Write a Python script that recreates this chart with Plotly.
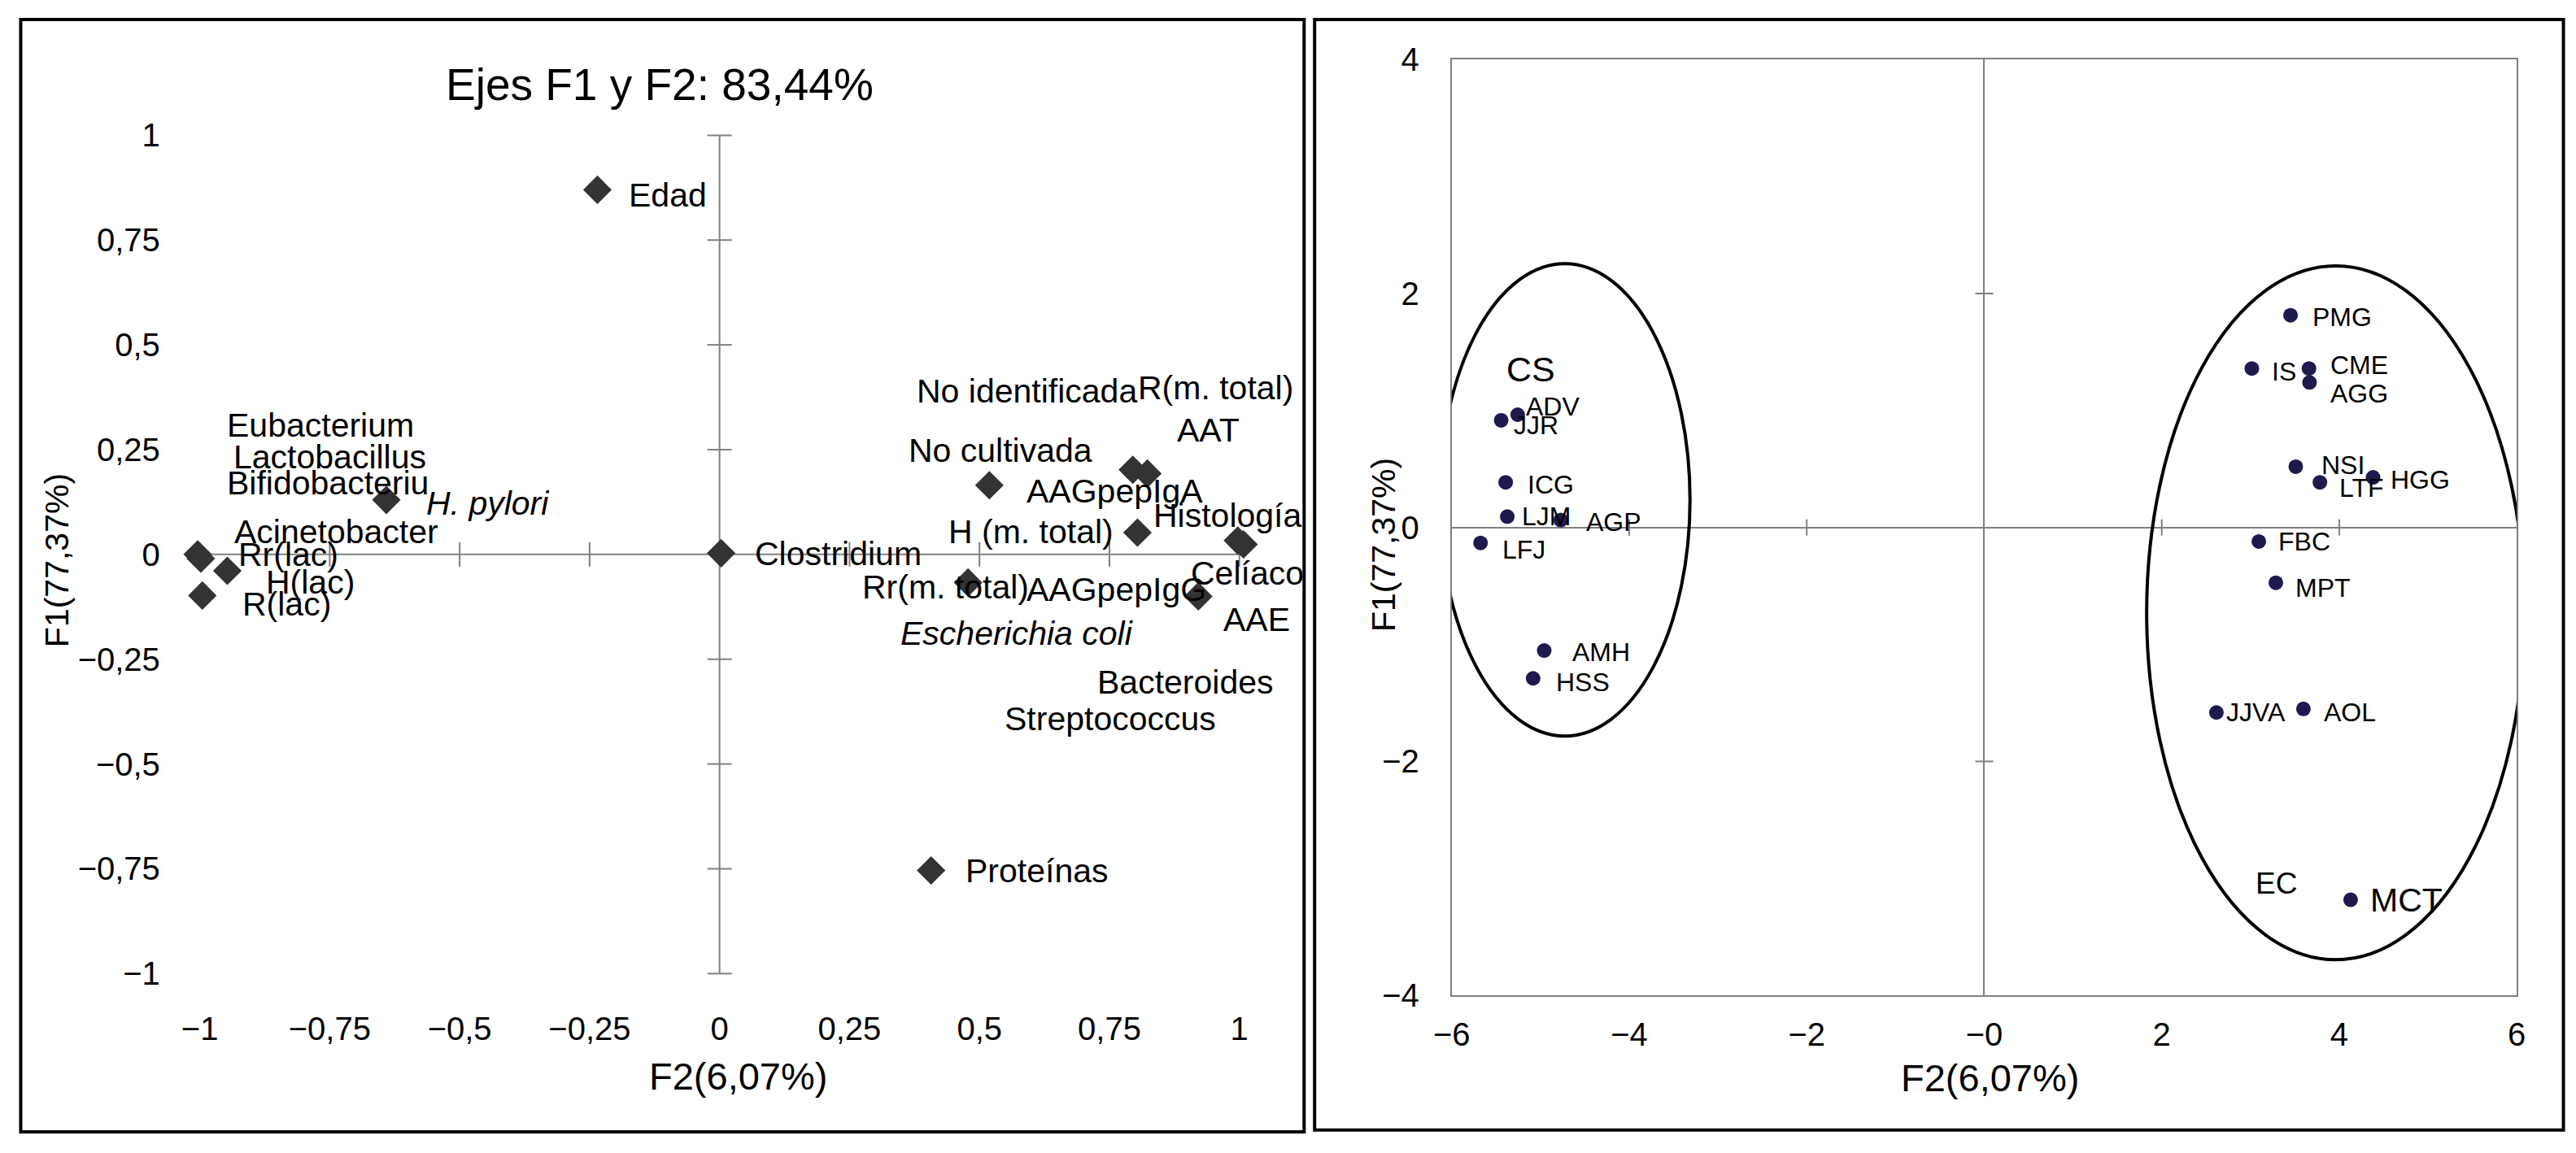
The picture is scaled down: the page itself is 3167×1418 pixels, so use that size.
import plotly.graph_objects as go

# ---------------- data: left panel (variables, correlation circle) ----------------
var_f2 = [-0.235, -0.641, -1.004, -0.998, -0.947, -0.995, 0.003, 0.519,
          0.795, 0.823, 0.804, 0.997, 1.008, 0.921, 0.478, 0.407]
var_f1 = [0.870, 0.130, 0.000, -0.010, -0.039, -0.098, 0.003, 0.165,
          0.202, 0.193, 0.052, 0.033, 0.024, -0.100, -0.067, -0.754]

var_labels = ["Edad", "Eubacterium", "Lactobacillus", "Bifidobacteriu", "H. pylori",
              "Acinetobacter", "Rr(lac)", "H(lac)", "R(lac)", "Clostridium",
              "No identificada", "R(m. total)", "AAT", "No cultivada", "AAGpepIgA",
              "Histología", "H (m. total)", "Celíaco", "Rr(m. total)", "AAGpepIgG",
              "AAE", "Escherichia coli", "Bacteroides", "Streptococcus", "Proteínas"]
var_label_x = [-0.099, -0.768, -0.749, -0.754, -0.445, -0.737, -0.830, -0.788, -0.832, 0.228,
               0.591, 0.954, 0.940, 0.541, 0.761, 0.977, 0.599, 1.015, 0.435, 0.763,
               1.034, 0.573, 0.897, 0.752, 0.611]
var_label_y = [0.858, 0.309, 0.232, 0.170, 0.121, 0.055, 0.000, -0.067, -0.118, 0.002,
               0.390, 0.397, 0.296, 0.249, 0.152, 0.093, 0.055, -0.045, -0.077, -0.083,
               -0.155, -0.189, -0.305, -0.393, -0.754]
var_label_italic = {"H. pylori", "Escherichia coli"}

left_ticks = [-1, -0.75, -0.5, -0.25, 0, 0.25, 0.5, 0.75, 1]
left_ticktext = ["\u22121", "\u22120,75", "\u22120,5", "\u22120,25", "0", "0,25", "0,5", "0,75", "1"]

# ---------------- data: right panel (observations) ----------------
obs_names = ["ADV", "JJR", "ICG", "LJM", "AGP", "LFJ", "AMH", "HSS",
             "PMG", "IS", "CME", "AGG", "NSI", "LTF", "HGG", "FBC", "MPT", "JJVA", "AOL", "MCT"]
obs_f2 = [-5.257, -5.443, -5.392, -5.374, -4.772, -5.675, -4.958, -5.083,
          3.451, 3.015, 3.659, 3.665, 3.510, 3.782, 4.381, 3.094, 3.286, 2.616, 3.596, 4.128]
obs_f1 = [0.964, 0.916, 0.386, 0.093, 0.063, -0.132, -1.052, -1.290,
          1.814, 1.359, 1.359, 1.240, 0.520, 0.386, 0.428, -0.120, -0.473, -1.582, -1.551, -3.183]
obs_label_x = [-4.866, -5.050, -4.884, -4.934, -4.170, -5.189, -4.319, -4.518,
               4.035, 3.374, 4.226, 4.226, 4.040, 4.248, 4.913, 3.605, 3.818, 3.059, 4.124, 4.758]
obs_label_y = [1.037, 0.873, 0.369, 0.093, 0.045, -0.193, -1.064, -1.326,
               1.799, 1.329, 1.391, 1.147, 0.532, 0.337, 0.410, -0.120, -0.516, -1.582, -1.582, -3.183]

group_names = ["CS", "EC"]
group_label_x = [-5.105, 3.294]
group_label_y = [1.354, -3.044]
# ellipse bounds: x0, x1, y0, y1
ellipse_x0 = [-6.137, 1.830]
ellipse_x1 = [-3.315, 6.089]
ellipse_y0 = [-1.783, -3.695]
ellipse_y1 = [2.255, 2.237]

right_xticks = [-6, -4, -2, 0, 2, 4, 6]
right_xticktext = ["\u22126", "\u22124", "\u22122", "\u22120", "2", "4", "6"]
right_yticks = [-4, -2, 0, 2, 4]
right_yticktext = ["\u22124", "\u22122", "0", "2", "4"]

# ---------------- layout geometry (pixels) ----------------
W, H = 3167, 1418
FONT = "Liberation Sans, Arial, Helvetica, sans-serif"
GRAY = "#808080"

def PX(px):
    return px / W

def PY(py):
    return 1 - py / H

# left panel mapping
L_X0, L_XU = 871.0, 646.0
L_Y0, L_YU = 681.0, 532.0
L_XR = [-1.07, 1.12]
L_YR = [-1.075, 1.08]
# right panel mapping
R_X0, R_XU = 2442.7, 110.3
R_Y0, R_YU = 646.75, 148.46
R_XR = [-6, 6]
R_YR = [-4, 4]

fig = go.Figure()

fig.add_trace(go.Scatter(
    x=var_f2, y=var_f1, mode="markers", xaxis="x", yaxis="y",
    marker=dict(symbol="diamond", size=27, color="#333333", line=dict(width=0)),
    cliponaxis=False, showlegend=False, hoverinfo="skip"))

fig.add_trace(go.Scatter(
    x=obs_f2, y=obs_f1, mode="markers", xaxis="x2", yaxis="y2",
    marker=dict(symbol="circle", size=18, color="#1e1a4d", line=dict(width=0)),
    cliponaxis=False, showlegend=False, hoverinfo="skip"))

shapes = []
# panel borders
shapes.append(dict(type="rect", xref="paper", yref="paper",
                   x0=PX(2.5), x1=PX(1597.5), y0=PY(1414), y1=PY(2),
                   line=dict(color="black", width=4)))
shapes.append(dict(type="rect", xref="paper", yref="paper",
                   x0=PX(1610.5), x1=PX(3162.5), y0=PY(1411.5), y1=PY(2),
                   line=dict(color="black", width=4)))
# left cross axes
shapes.append(dict(type="line", xref="x", yref="y", x0=-1, x1=1, y0=0, y1=0,
                   line=dict(color=GRAY, width=2), layer="below"))
shapes.append(dict(type="line", xref="x", yref="y", x0=0, x1=0, y0=-1, y1=1,
                   line=dict(color=GRAY, width=2), layer="below"))
for t in left_ticks:
    if t == 0:
        continue
    shapes.append(dict(type="line", xref="x", yref="y", xsizemode="pixel", xanchor=0,
                       x0=-15, x1=15, y0=t, y1=t, line=dict(color=GRAY, width=2), layer="below"))
    shapes.append(dict(type="line", xref="x", yref="y", ysizemode="pixel", yanchor=0,
                       y0=-15, y1=15, x0=t, x1=t, line=dict(color=GRAY, width=2), layer="below"))
# right cross ticks
for t in right_xticks:
    if t in (0, -6, 6):
        continue
    shapes.append(dict(type="line", xref="x2", yref="y2", ysizemode="pixel", yanchor=0,
                       y0=-10, y1=10, x0=t, x1=t, line=dict(color=GRAY, width=2), layer="below"))
for t in right_yticks:
    if t in (0, -4, 4):
        continue
    shapes.append(dict(type="line", xref="x2", yref="y2", xsizemode="pixel", xanchor=0,
                       x0=-11, x1=11, y0=t, y1=t, line=dict(color=GRAY, width=2), layer="below"))
# ellipses
for x0, x1, y0, y1 in zip(ellipse_x0, ellipse_x1, ellipse_y0, ellipse_y1):
    shapes.append(dict(type="circle", xref="x2", yref="y2", x0=x0, x1=x1, y0=y0, y1=y1,
                       line=dict(color="black", width=4)))

annotations = []
for txt, lx, ly in zip(var_labels, var_label_x, var_label_y):
    t = "<i>%s</i>" % txt if txt in var_label_italic else txt
    annotations.append(dict(x=lx, y=ly, xref="x", yref="y", text=t, showarrow=False,
                            xanchor="center", yanchor="middle",
                            font=dict(family=FONT, size=41, color="black")))
for txt, lx, ly in zip(obs_names, obs_label_x, obs_label_y):
    fs = 41 if txt == "MCT" else 32
    annotations.append(dict(x=lx, y=ly, xref="x2", yref="y2", text=txt, showarrow=False,
                            xanchor="center", yanchor="middle",
                            font=dict(family=FONT, size=fs, color="black")))
group_sizes = [43, 37]
for txt, lx, ly, fs in zip(group_names, group_label_x, group_label_y, group_sizes):
    annotations.append(dict(x=lx, y=ly, xref="x2", yref="y2", text=txt, showarrow=False,
                            xanchor="center", yanchor="middle",
                            font=dict(family=FONT, size=fs, color="black")))

# titles
annotations.append(dict(x=PX(796.5), y=PY(85), xref="paper", yref="paper",
                        text="Ejes F1 y F2: 83,44%", showarrow=False,
                        xanchor="center", yanchor="middle",
                        font=dict(family=FONT, size=55, color="black")))
annotations.append(dict(x=PX(894.5), y=PY(1343), xref="paper", yref="paper",
                        text="F2(6,07%)", showarrow=False, xanchor="center", yanchor="middle",
                        font=dict(family=FONT, size=47, color="black")))
annotations.append(dict(x=PX(47), y=PY(688), xref="paper", yref="paper",
                        text="F1(77,37%)", showarrow=False, textangle=-90,
                        xanchor="center", yanchor="middle",
                        font=dict(family=FONT, size=41, color="black")))
annotations.append(dict(x=PX(2450), y=PY(1345), xref="paper", yref="paper",
                        text="F2(6,07%)", showarrow=False, xanchor="center", yanchor="middle",
                        font=dict(family=FONT, size=47, color="black")))
annotations.append(dict(x=PX(1696), y=PY(669), xref="paper", yref="paper",
                        text="F1(77,37%)", showarrow=False, textangle=-90,
                        xanchor="center", yanchor="middle",
                        font=dict(family=FONT, size=41, color="black")))

tickfont = dict(family=FONT, size=40, color="black")

fig.update_layout(
    width=W, height=H, margin=dict(l=0, r=0, t=0, b=0),
    paper_bgcolor="white", plot_bgcolor="rgba(0,0,0,0)",
    showlegend=False, hovermode=False,
    xaxis=dict(domain=[PX(L_X0 + L_XU * L_XR[0]), PX(L_X0 + L_XU * L_XR[1])],
               range=L_XR, anchor="y", showgrid=False, zeroline=False, showline=False,
               ticks="", tickvals=left_ticks, ticktext=left_ticktext, tickfont=tickfont,
               ticklabelstandoff=2),
    yaxis=dict(domain=[PY(L_Y0 - L_YU * L_YR[0]), PY(L_Y0 - L_YU * L_YR[1])],
               range=L_YR, anchor="x", showgrid=False, zeroline=False, showline=False,
               ticks="", tickvals=left_ticks, ticktext=left_ticktext, tickfont=tickfont,
               ticklabelstandoff=3),
    xaxis2=dict(domain=[PX(R_X0 + R_XU * R_XR[0]), PX(R_X0 + R_XU * R_XR[1])],
                range=R_XR, anchor="y2", showgrid=False, zeroline=True,
                zerolinecolor=GRAY, zerolinewidth=2,
                showline=True, mirror=True, linecolor=GRAY, linewidth=2,
                ticks="", tickvals=right_xticks, ticktext=right_xticktext, tickfont=tickfont,
                ticklabelstandoff=12),
    yaxis2=dict(domain=[PY(R_Y0 - R_YU * R_YR[0]), PY(R_Y0 - R_YU * R_YR[1])],
                range=R_YR, anchor="x2", showgrid=False, zeroline=True,
                zerolinecolor=GRAY, zerolinewidth=2,
                showline=True, mirror=True, linecolor=GRAY, linewidth=2,
                ticks="", tickvals=right_yticks, ticktext=right_yticktext, tickfont=tickfont,
                ticklabelstandoff=30),
    shapes=shapes, annotations=annotations,
)

fig.write_html("out.html", include_plotlyjs=True, full_html=True,
               config={"displayModeBar": False},
               post_script="document.body.style.margin='0';document.body.style.overflow='hidden';")
